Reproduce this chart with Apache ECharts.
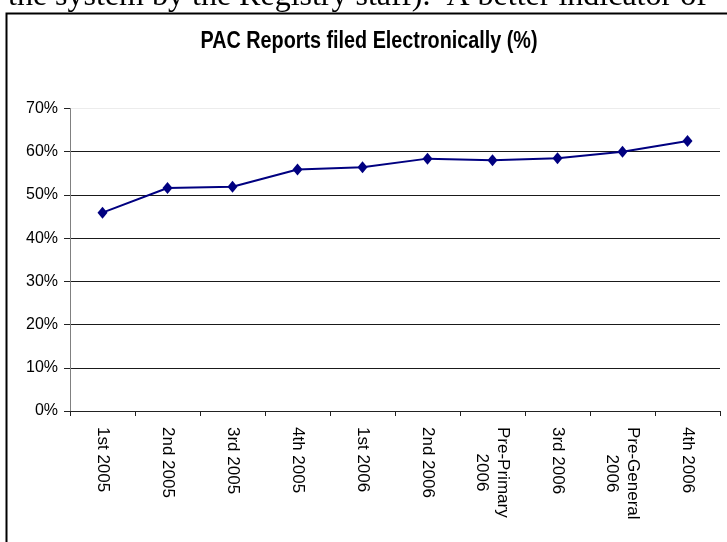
<!DOCTYPE html>
<html>
<head>
<meta charset="utf-8">
<script src="https://cdn.jsdelivr.net/npm/echarts@6/dist/echarts.min.js"></script>
<style>
  html, body { margin: 0; padding: 0; background: #fff; }
  #chart { width: 727px; height: 542px; }
</style>
</head>
<body>
<div id="chart"></div>
<script>
// Reporting periods (two-line names use "\n")
const categories = [
  '1st 2005', '2nd 2005', '3rd 2005', '4th 2005', '1st 2006',
  '2nd 2006', 'Pre-Primary\n2006', '3rd 2006', 'Pre-General\n2006', '4th 2006'
];
// Share of PAC reports filed electronically, percent
const electronicShare = [45.9, 51.6, 51.9, 55.9, 56.4, 58.4, 58.0, 58.5, 60.0, 62.5];
// Value axis ticks
const yTicks = { min: 0, max: 70, step: 10 };

const titleText = 'PAC Reports filed Electronically (%)';
const bodyText = 'the system by the Registry staff).  A better indicator of';

const LABEL_FONT = 'Liberation Sans, Arial, sans-serif';
const LABEL_SIZE = 17;

// width of a text line, used to centre the second line of a two-line label
const measureCtx = document.createElement('canvas').getContext('2d');
function lineWidth(s) {
  measureCtx.font = LABEL_SIZE + 'px ' + LABEL_FONT;
  return Math.ceil(measureCtx.measureText(s).width);
}

const chart = echarts.init(document.getElementById('chart'), null, { renderer: 'canvas' });

const gridColors = ['#1a1a1a', '#1a1a1a', '#1a1a1a', '#1a1a1a', '#1a1a1a', '#1a1a1a', '#1a1a1a', '#ececec'];

chart.setOption({
  animation: false,
  backgroundColor: '#fff',
  graphic: [
    {
      type: 'text',
      left: 8,
      top: -19,
      style: {
        text: bodyText,
        font: '32px "Liberation Serif", "Times New Roman", serif',
        fill: '#000'
      }
    },
    {
      type: 'rect',
      shape: { x: 6.5, y: 13.5, width: 900, height: 700 },
      style: { fill: 'none', stroke: '#000', lineWidth: 2 },
      silent: true
    },
    {
      type: 'text',
      x: 369,
      y: 42,
      scaleX: 0.86,
      originX: 0,
      style: {
        text: titleText,
        font: 'bold 23px "Liberation Sans", Arial, sans-serif',
        fill: '#000',
        align: 'center',
        verticalAlign: 'middle'
      }
    }
  ],
  grid: {
    left: 70,
    right: 7,
    top: 108.5,
    bottom: 131,
    containLabel: false,
    outerBoundsMode: 'none'
  },
  xAxis: {
    type: 'category',
    data: categories,
    boundaryGap: true,
    axisLine: { show: true, lineStyle: { color: '#222', width: 1 } },
    axisTick: { show: true, alignWithLabel: false, length: 5, lineStyle: { color: '#222' } },
    axisLabel: {
      rotate: -90,
      margin: 16,
      interval: 0,
      color: '#000',
      fontFamily: LABEL_FONT,
      fontSize: LABEL_SIZE,
      lineHeight: 21,
      formatter: function (v) {
        const parts = v.split('\n');
        if (parts.length < 2) return '{a|' + v + '}';
        const w = lineWidth(parts[0]);
        return '{a|' + parts[0] + '}\n{b' + w + '|' + parts[1] + '}';
      },
      rich: (function () {
        const r = { a: { fontSize: LABEL_SIZE, fontFamily: LABEL_FONT, color: '#000', lineHeight: 21 } };
        categories.forEach(function (c) {
          const parts = c.split('\n');
          if (parts.length > 1) {
            const w = lineWidth(parts[0]);
            r['b' + w] = { fontSize: LABEL_SIZE, fontFamily: LABEL_FONT, color: '#000', lineHeight: 21, width: w, align: 'center' };
          }
        });
        return r;
      })()
    },
    splitLine: { show: false }
  },
  yAxis: {
    type: 'value',
    min: yTicks.min,
    max: yTicks.max,
    interval: yTicks.step,
    axisLine: { show: true, lineStyle: { color: '#808080', width: 1 } },
    axisTick: { show: true, length: 6, lineStyle: { color: '#222' } },
    axisLabel: {
      margin: 12,
      color: '#000',
      fontFamily: LABEL_FONT,
      fontSize: 16,
      formatter: '{value}%'
    },
    splitLine: { show: true, lineStyle: { color: gridColors, width: 1 } }
  },
  series: [
    {
      type: 'line',
      data: electronicShare,
      symbol: 'diamond',
      symbolSize: [10, 12],
      showSymbol: true,
      lineStyle: { color: '#000080', width: 2 },
      itemStyle: { color: '#000080' },
      z: 5
    }
  ]
});
</script>
</body>
</html>
